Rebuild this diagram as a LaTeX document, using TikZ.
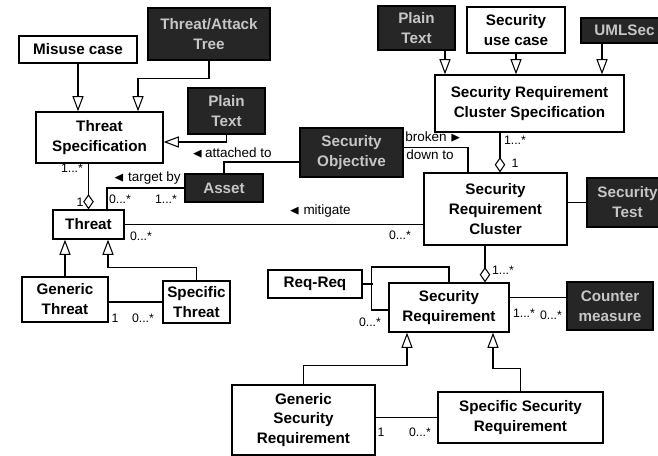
\documentclass[tikz,border=0pt]{standalone}
\usepackage{amssymb}
\usepackage{fontspec}
\setmainfont{Liberation Sans}
\usetikzlibrary{arrows.meta, calc, positioning}
\tikzset{
  classbox/.style={
    draw, line width=1.1pt, align=center, fill=white, inner sep=2pt,
    font=\bfseries\fontsize{13}{17}\selectfont
  },
  darkbox/.style={
    classbox, fill=black!85, text=gray!45
  },
  genarrow/.style={
    -{Triangle[open, length=13pt, width=9.5pt]}, line width=0.9pt
  },
  aggline/.style={
    {Diamond[open, length=13pt, width=9pt]}-, line width=0.9pt
  },
  assocline/.style={line width=0.9pt},
  assoclabel/.style={font=\fontsize{11.5}{13}\selectfont, inner sep=1pt},
  multlabel/.style={font=\fontsize{10.5}{12}\selectfont, inner sep=1pt},
}

\begin{document}
\begin{tikzpicture}[x=0.03cm, y=-0.03cm]
  \useasboundingbox (0,0) rectangle (658,456);

  % Threat side
  \node[classbox, minimum width=3.54cm, minimum height=0.81cm]
    (misuse) at (78,49.5) {Misuse case};
  \node[darkbox, minimum width=3.66cm, minimum height=1.56cm]
    (attacktree) at (209,34) {Threat/Attack\\Tree};
  \node[classbox, minimum width=3.81cm, minimum height=1.53cm]
    (threatspec) at (99.5,137.5) {Threat\\Specification};
  \node[darkbox, minimum width=2.31cm, minimum height=1.38cm]
    (plaintexta) at (226.5,111) {Plain\\Text};
  \node[darkbox, minimum width=2.34cm, minimum height=0.84cm]
    (asset) at (224,188) {Asset};
  \node[darkbox, minimum width=3.09cm, minimum height=1.47cm]
    (objective) at (351.5,152.5) {Security\\Objective};
  \node[classbox, minimum width=2.13cm, minimum height=0.87cm]
    (threat) at (88.5,224.5) {Threat};
  \node[classbox, minimum width=2.58cm, minimum height=1.35cm]
    (genthreat) at (65,299.5) {Generic\\Threat};
  \node[classbox, minimum width=2.01cm, minimum height=1.26cm]
    (specthreat) at (196.5,302) {Specific\\Threat};

  % Requirement side
  \node[darkbox, minimum width=2.31cm, minimum height=1.32cm]
    (plaintextb) at (416.5,28) {Plain\\Text};
  \node[classbox, minimum width=2.94cm, minimum height=1.38cm]
    (secusecase) at (516,30) {Security\\use case};
  \node[darkbox, minimum width=2.61cm, minimum height=0.75cm]
    (umlsec) at (624.5,30.5) {UMLSec};
  \node[classbox, minimum width=5.67cm, minimum height=1.71cm]
    (srcs) at (529.5,103.5) {Security Requirement\\Cluster Specification};
  \node[classbox, minimum width=4.29cm, minimum height=2.16cm]
    (cluster) at (495.5,209) {Security\\Requirement\\Cluster};
  \node[darkbox, minimum width=2.43cm, minimum height=1.47cm]
    (sectest) at (627.5,202.5) {Security\\Test};
  \node[classbox, minimum width=2.82cm, minimum height=0.84cm]
    (reqreq) at (315,284) {Req-Req};
  \node[classbox, minimum width=3.6cm, minimum height=1.47cm]
    (secreq) at (449,307.5) {Security\\Requirement};
  \node[darkbox, minimum width=2.58cm, minimum height=1.44cm]
    (counter) at (610,306) {Counter\\measure};
  \node[classbox, minimum width=4.29cm, minimum height=2.1cm]
    (gensecreq) at (303.5,420) {Generic\\Security\\Requirement};
  \node[classbox, minimum width=4.95cm, minimum height=1.53cm]
    (specsecreq) at (520.5,417.5) {Specific Security\\Requirement};

  % helper points on the box edges
  \coordinate (tsin) at ($(threatspec.north)+(38.5,0)$);
  \coordinate (tsside) at ($(threatspec.east)+(0,4.5)$);
  \coordinate (objleft) at ($(objective.west)+(0,9.5)$);
  \coordinate (objright) at ($(objective.east)+(0,-5)$);
  \coordinate (clin) at ($(cluster.north)+(-27.5,0)$);
  \coordinate (cltop) at ($(cluster.north)+(4.5,0)$);
  \coordinate (thtop) at ($(threat.north)+(18.5,0)$);
  \coordinate (thbot) at ($(threat.south)+(19.5,0)$);
  \coordinate (ptbot) at ($(plaintextb.south)+(28.5,0)$);
  \coordinate (umlbot) at ($(umlsec.south)+(-22.5,0)$);
  \coordinate (srtop) at ($(secreq.north)+(36,0)$);
  \coordinate (srleft) at ($(secreq.west)+(0,2.5)$);
  \coordinate (srright) at ($(secreq.east)+(0,-10)$);
  \coordinate (gsin) at ($(secreq.south)+(-42,0)$);
  \coordinate (ssin) at ($(secreq.south)+(44,0)$);

  % generalisations
  \draw[genarrow] (misuse.south) -- (misuse.south |- threatspec.north);
  \draw[genarrow] (attacktree.south) -- ++(0,18) -| (tsin);
  \draw[genarrow] (plaintexta.south) |- (tsside);
  \draw[genarrow] (genthreat.north) -- (genthreat.north |- threat.south);
  \draw[genarrow] (specthreat.north) |- ($(thbot)+(0,28)$) -- (thbot);
  \draw[genarrow] (ptbot) -- (ptbot |- srcs.north);
  \draw[genarrow] (secusecase.south) -- (secusecase.south |- srcs.north);
  \draw[genarrow] (umlbot) -- (umlbot |- srcs.north);
  \draw[genarrow] (gensecreq.north) |- ($(gsin)+(0,33)$) -- (gsin);
  \draw[genarrow] (specsecreq.north) |- ($(ssin)+(0,36)$) -- (ssin);

  % aggregations
  \draw[aggline] (threat.north) -- (threat.north |- threatspec.south);
  \draw[aggline] (cltop) -- (cltop |- srcs.south);
  \draw[aggline] (srtop) -- (srtop |- cluster.south);

  % associations
  \draw[assocline] (objleft) -| (asset.north);
  \draw[assocline] (thtop) |- (asset.west);
  \draw[assocline] (threat.east) -- (threat.east -| cluster.west);
  \draw[assocline] (objright) -| (clin);
  \draw[assocline] (sectest.west -| cluster.east) -- (sectest.west);
  \draw[assocline] (specthreat.west -| genthreat.east) -- (specthreat.west);
  \draw[assocline] (srright) -- (srright -| counter.west);
  \draw[assocline] (srleft) -- ++(-17,0) -- ++(0,-43) -| (secreq.north);
  \draw[assocline] (reqreq.east) -- ++(10,0);
  \draw[assocline] (gensecreq.east |- specsecreq.west) -- (specsecreq.west);

  % association names
  \node[assoclabel] (lattached) at (232,153)
    {$\blacktriangleleft$\,attached to};
  \node[assoclabel, anchor=east] (ltarget) at (182,178)
    {$\blacktriangleleft$ target by};
  \node[assoclabel] (lmitigate) at (320,211) {$\blacktriangleleft$ mitigate};
  \node[assoclabel, anchor=west] (lbroken) at (404,137)
    {broken $\blacktriangleright$};
  \node[assoclabel, anchor=west] (ldown) at (405,155) {down to};

  % multiplicities
  \node[multlabel] (m1) at (72,168) {1...*};
  \node[multlabel] (m2) at (80,202) {1};
  \node[multlabel] (m3) at (120,199) {0...*};
  \node[multlabel] (m4) at (166,199) {1...*};
  \node[multlabel] (m5) at (141,236) {0...*};
  \node[multlabel] (m6) at (400,235) {0...*};
  \node[multlabel] (m7) at (515,140) {1...*};
  \node[multlabel] (m8) at (515,163) {1};
  \node[multlabel] (m9) at (503,270) {1...*};
  \node[multlabel] (m10) at (370,322) {0...*};
  \node[multlabel] (m11) at (524,313) {1...*};
  \node[multlabel] (m12) at (551,315) {0...*};
  \node[multlabel] (m13) at (115,318) {1};
  \node[multlabel] (m14) at (143,318) {0...*};
  \node[multlabel] (m15) at (381,432) {1};
  \node[multlabel] (m16) at (420,432) {0...*};
\end{tikzpicture}
\end{document}
